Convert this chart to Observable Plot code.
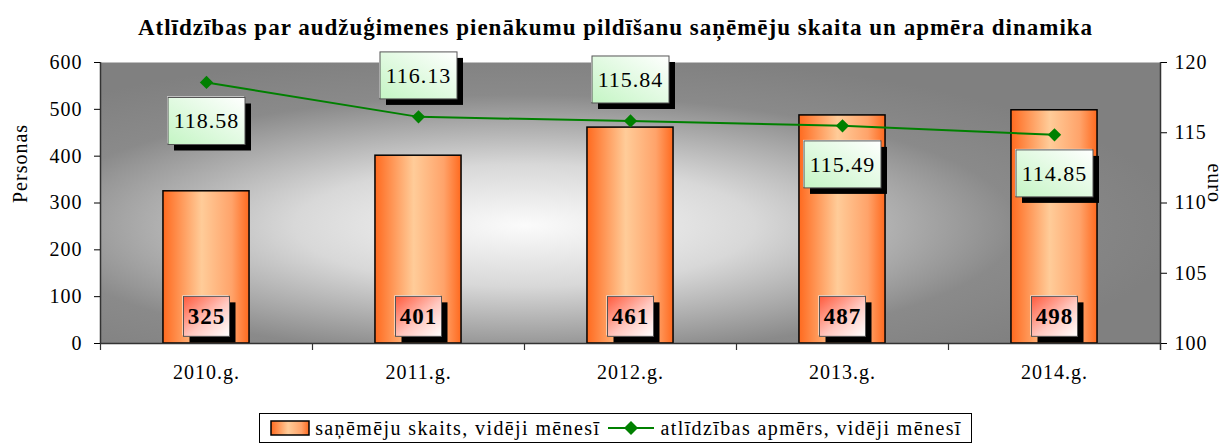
<!DOCTYPE html>
<html><head><meta charset="utf-8">
<script src="https://cdn.jsdelivr.net/npm/d3@7"></script>
<script src="https://cdn.jsdelivr.net/npm/@observablehq/plot@0.6"></script>
<style>
body{margin:0;background:#fff;font-family:"Liberation Serif","Times New Roman",serif;color:#000;}
#title{height:50px;box-sizing:border-box;padding-top:16px;text-align:center;font-weight:bold;font-size:23px;line-height:24px;letter-spacing:1px;}
#chart svg{display:block;}
#chart svg, #chart svg text{font-family:"Liberation Serif","Times New Roman",serif !important;}
#chart svg text{letter-spacing:1px;}
#legendWrap{text-align:center;margin-top:11px;}
#legend{display:inline-flex;align-items:center;border:1px solid #000;height:30px;box-sizing:border-box;padding:0 9px;font-size:20px;letter-spacing:1.4px;background:#fff;}
#legend svg{display:block;}
</style></head><body>
<div id="title">Atlīdzības par audžuģimenes pienākumu pildīšanu saņēmēju skaita un apmēra dinamika</div>
<div id="chart"></div>
<div id="legendWrap"><div id="legend">
<svg width="42" height="18"><defs><linearGradient id="legBar" x1="0" x2="1" y1="0" y2="0"><stop offset="0" stop-color="#ff6a1f"/><stop offset="0.45" stop-color="#ffcc99"/><stop offset="0.8" stop-color="#ffa36a"/><stop offset="1" stop-color="#ff6a1f"/></linearGradient></defs><rect x="2" y="2" width="38" height="14" fill="url(#legBar)" stroke="#000" stroke-width="1.5"/></svg>
<span style="margin:0 8px 0 4px">saņēmēju skaits, vidēji mēnesī</span>
<svg width="46" height="18"><line x1="0" x2="46" y1="9" y2="9" stroke="#008000" stroke-width="2"/><path d="M23,2 L30,9 L23,16 L16,9 Z" fill="#008000"/></svg>
<span style="margin-left:6px">atlīdzības apmērs, vidēji mēnesī</span>
</div></div>
<script>
const years = ["2010.g.", "2011.g.", "2012.g.", "2013.g.", "2014.g."];
const recipients = [325, 401, 461, 487, 498];
const amounts = [118.58, 116.13, 115.84, 115.49, 114.85];
const leftTicks = [0, 100, 200, 300, 400, 500, 600];
const rightTicks = [100, 105, 110, 115, 120];
const labelsAbove = ["2011.g.", "2012.g."];

const data = years.map((y, i) => ({year: y, n: recipients[i], e: amounts[i]}));

const W = 1231, H = 352, mL = 100, mR = 71, mT = 12, mB = 59;
const bw = (W - mL - mR) / years.length;
const leftMax = leftTicks[leftTicks.length - 1];
const rMin = rightTicks[0], rMax = rightTicks[rightTicks.length - 1];
const toLeft = v => (v - rMin) * leftMax / (rMax - rMin);

const plot = Plot.plot({
  width: W, height: H,
  marginLeft: mL, marginRight: mR, marginTop: mT, marginBottom: mB,
  style: {fontFamily: "'Liberation Serif', serif", fontSize: "20px", background: "transparent", color: "#000", overflow: "visible"},
  x: {type: "band", domain: years, padding: 0, label: null},
  y: {domain: [0, leftMax], label: null},
  marks: [
    Plot.frame({fill: "url(#bgGrad)"}),
    Plot.barY(data, {x: "year", y: "n", fill: "url(#barGrad)", stroke: "#000", strokeWidth: 1.5, insetLeft: bw * 0.297, insetRight: bw * 0.297}),
    Plot.ruleY([0], {stroke: "#333", strokeWidth: 1.5}),
    Plot.ruleX([years[0]], {x: d => d, dx: -bw / 2, stroke: "#333", strokeWidth: 1.5}),
    Plot.ruleX([years[years.length - 1]], {x: d => d, dx: bw / 2, insetBottom: -7, stroke: "#333", strokeWidth: 1.5}),
    Plot.ruleX(years, {x: d => d, dx: -bw / 2, y1: 0, y2: 0, insetBottom: -7, stroke: "#333", strokeWidth: 1.2}),
    Plot.axisY({ticks: leftTicks, tickSize: 6, tickPadding: 12, fontSize: 20, label: null}),
    Plot.axisY({anchor: "right", ticks: rightTicks.map(toLeft), tickFormat: d => String(Math.round(rMin + d * (rMax - rMin) / leftMax)), tickSize: 6, tickPadding: 8, fontSize: 20, label: null}),
    Plot.axisX({tickSize: 0, tickPadding: 21, fontSize: 20, label: null}),
    Plot.text(["Personas"], {frameAnchor: "left", dx: -80, rotate: -90, fontSize: 20}),
    Plot.text(["euro"], {frameAnchor: "right", dx: 54, rotate: 90, fontSize: 20}),
    Plot.line(data, {x: "year", y: d => toLeft(d.e), stroke: "#008000", strokeWidth: 2}),
    Plot.dot(data, {x: "year", y: d => toLeft(d.e), symbol: "diamond2", r: 6, fill: "#008000", stroke: "none"}),
    Plot.text(data.filter(d => labelsAbove.includes(d.year)), {x: "year", y: d => toLeft(d.e), text: d => d.e.toFixed(2), dy: -41, fontSize: 22, ariaDescription: "euro-label"}),
    Plot.text(data.filter(d => !labelsAbove.includes(d.year)), {x: "year", y: d => toLeft(d.e), text: d => d.e.toFixed(2), dy: 39, fontSize: 22, ariaDescription: "euro-label"}),
    Plot.text(data, {x: "year", y: 0, text: d => String(d.n), dy: -27, fontSize: 23, fontWeight: "bold", ariaDescription: "n-label"})
  ]
});
document.getElementById("chart").appendChild(plot);

const NS = "http://www.w3.org/2000/svg";
const defs = document.createElementNS(NS, "defs");
defs.innerHTML = `
<radialGradient id="bgGrad" cx="0.4" cy="0.58" r="0.62">
  <stop offset="0" stop-color="#fbfbfb"/><stop offset="0.35" stop-color="#d8d8d8"/><stop offset="0.75" stop-color="#8a8a8a"/><stop offset="1" stop-color="#808080"/>
</radialGradient>
<linearGradient id="barGrad" x1="0" x2="1" y1="0" y2="0">
  <stop offset="0" stop-color="#ff6a1f"/><stop offset="0.45" stop-color="#ffcc99"/><stop offset="0.8" stop-color="#ffa36a"/><stop offset="1" stop-color="#ff6a1f"/>
</linearGradient>
<linearGradient id="greenGrad" x1="0" y1="1" x2="1" y2="0">
  <stop offset="0" stop-color="#c4f5c4"/><stop offset="1" stop-color="#ffffff"/>
</linearGradient>
<linearGradient id="pinkGrad" x1="0" y1="0" x2="1" y2="1">
  <stop offset="0" stop-color="#ff5a3c"/><stop offset="0.55" stop-color="#ffc8c0"/><stop offset="1" stop-color="#ffffff"/>
</linearGradient>`;
plot.insertBefore(defs, plot.firstChild);

function boxify(label, grad, w, h, sh) {
  const groups = [...plot.querySelectorAll("g")].filter(g => g.getAttribute("aria-description") === label);
  groups.forEach(g => g.querySelectorAll("text").forEach(t => {
    const b = t.getBBox();
    const cx = b.x + b.width / 2, cy = b.y + b.height / 2;
    const tf = t.getAttribute("transform");
    const mk = (x, y, fill, stroke) => {
      const r = document.createElementNS(NS, "rect");
      r.setAttribute("x", x); r.setAttribute("y", y);
      r.setAttribute("width", w); r.setAttribute("height", h);
      r.setAttribute("fill", fill);
      if (tf) r.setAttribute("transform", tf);
      if (stroke) { r.setAttribute("stroke", stroke); r.setAttribute("stroke-width", 1); }
      t.parentNode.insertBefore(r, t);
    };
    mk(cx - w / 2 + sh, cy - h / 2 + sh, "#000");
    mk(cx - w / 2 - 1, cy - h / 2 - 1, "#fff");
    mk(cx - w / 2, cy - h / 2, `url(#${grad})`, "#555");
  }));
}
boxify("euro-label", "greenGrad", 77, 47, 6);
boxify("n-label", "pinkGrad", 46, 40, 6);
</script>
</body></html>
